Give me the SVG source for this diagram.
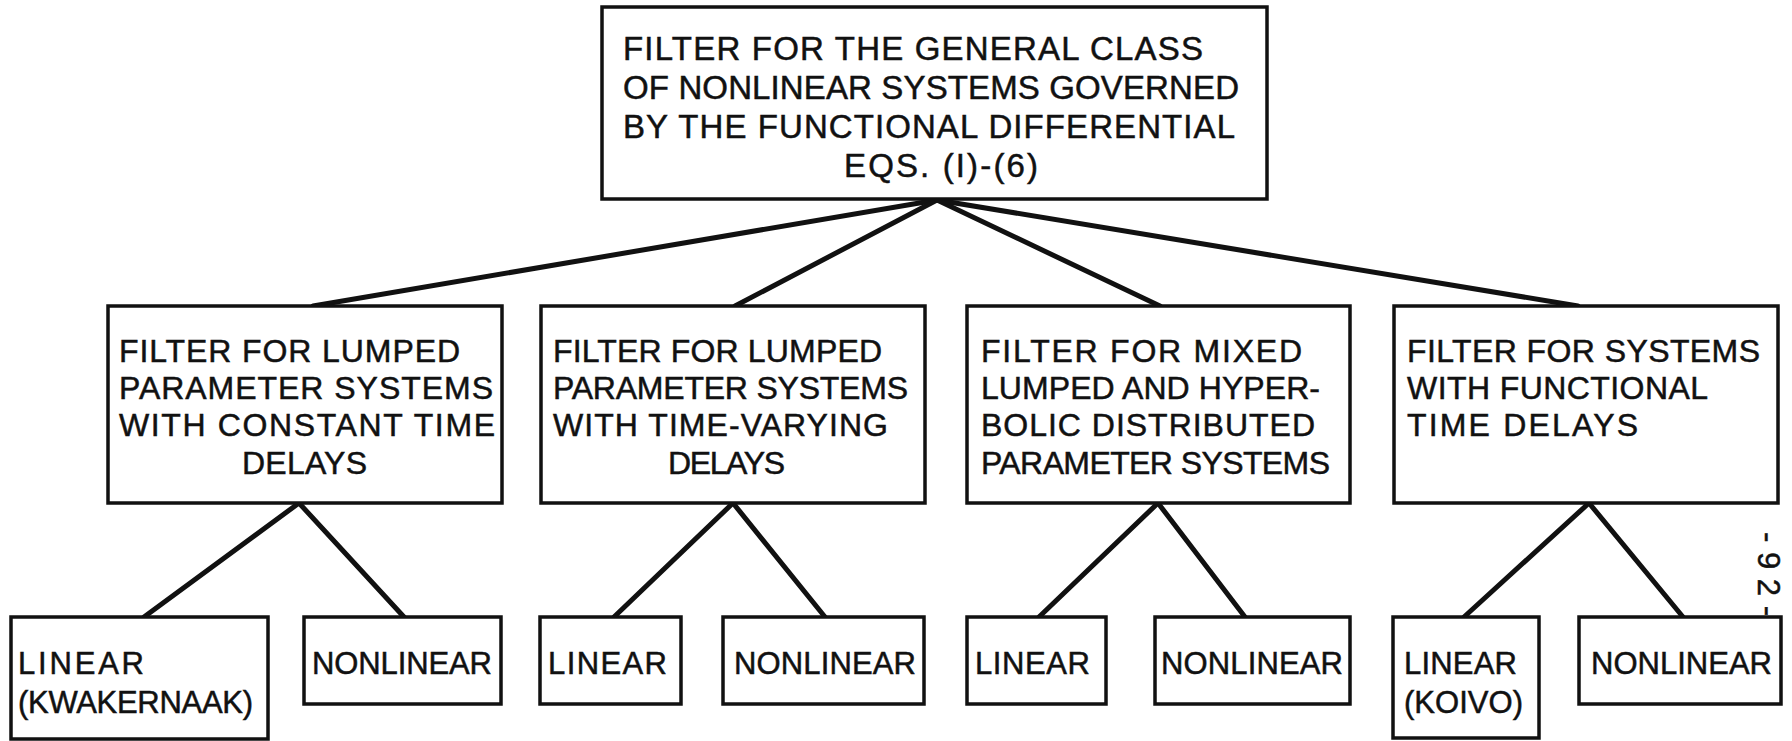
<svg xmlns="http://www.w3.org/2000/svg" width="1792" height="741" viewBox="0 0 1792 741">
<style>
.box{fill:#fff;stroke:#111;stroke-width:3.5}
.c{stroke:#111;stroke-width:5;fill:none;stroke-linecap:round}
text{font-family:"Liberation Sans",Arial,sans-serif;fill:#111;stroke:#111;stroke-width:0.5}
.t{font-size:33px}
.m{font-size:32px}
.b{font-size:31px}
</style>
<rect width="1792" height="741" fill="#fff"/>
<g id="connectors">
<line class="c" x1="937" y1="200" x2="313" y2="306"/>
<line class="c" x1="937" y1="200" x2="735" y2="306"/>
<line class="c" x1="937" y1="200" x2="1160" y2="306"/>
<line class="c" x1="937" y1="200" x2="1578" y2="306"/>
<line class="c" x1="299" y1="503" x2="144" y2="617"/>
<line class="c" x1="299" y1="503" x2="404" y2="617"/>
<line class="c" x1="733" y1="503" x2="614" y2="617"/>
<line class="c" x1="733" y1="503" x2="825" y2="617"/>
<line class="c" x1="1158" y1="503" x2="1039" y2="617"/>
<line class="c" x1="1158" y1="503" x2="1245" y2="617"/>
<line class="c" x1="1589" y1="503" x2="1464" y2="617"/>
<line class="c" x1="1589" y1="503" x2="1683" y2="617"/>
</g>
<g id="root">
<rect class="box" x="602" y="7" width="665" height="192"/>
<text class="t" x="623" y="60" textLength="580" lengthAdjust="spacing">FILTER FOR THE GENERAL CLASS</text>
<text class="t" x="623" y="99" textLength="616" lengthAdjust="spacing">OF NONLINEAR SYSTEMS GOVERNED</text>
<text class="t" x="623" y="138" textLength="612" lengthAdjust="spacing">BY THE FUNCTIONAL DIFFERENTIAL</text>
<text class="t" x="844" y="177" textLength="194" lengthAdjust="spacing">EQS. (I)-(6)</text>
</g>
<g id="lumped-constant">
<rect class="box" x="108" y="306" width="394" height="197"/>
<text class="m" x="119" y="362" textLength="341" lengthAdjust="spacing">FILTER FOR LUMPED</text>
<text class="m" x="119" y="399" textLength="374" lengthAdjust="spacing">PARAMETER SYSTEMS</text>
<text class="m" x="119" y="436" textLength="376" lengthAdjust="spacing">WITH CONSTANT TIME</text>
<text class="m" x="242" y="474" textLength="125" lengthAdjust="spacing">DELAYS</text>
</g>
<g id="lumped-varying">
<rect class="box" x="541" y="306" width="384" height="197"/>
<text class="m" x="553" y="362" textLength="329" lengthAdjust="spacing">FILTER FOR LUMPED</text>
<text class="m" x="553" y="399" textLength="355" lengthAdjust="spacing">PARAMETER SYSTEMS</text>
<text class="m" x="553" y="436" textLength="335" lengthAdjust="spacing">WITH TIME-VARYING</text>
<text class="m" x="668" y="474" textLength="117" lengthAdjust="spacing">DELAYS</text>
</g>
<g id="mixed">
<rect class="box" x="967" y="306" width="383" height="197"/>
<text class="m" x="981" y="362" textLength="321" lengthAdjust="spacing">FILTER FOR MIXED</text>
<text class="m" x="981" y="399" textLength="339" lengthAdjust="spacing">LUMPED AND HYPER-</text>
<text class="m" x="981" y="436" textLength="334" lengthAdjust="spacing">BOLIC DISTRIBUTED</text>
<text class="m" x="981" y="474" textLength="349" lengthAdjust="spacing">PARAMETER SYSTEMS</text>
</g>
<g id="functional">
<rect class="box" x="1394" y="306" width="384" height="197"/>
<text class="m" x="1407" y="362" textLength="353" lengthAdjust="spacing">FILTER FOR SYSTEMS</text>
<text class="m" x="1407" y="399" textLength="301" lengthAdjust="spacing">WITH FUNCTIONAL</text>
<text class="m" x="1407" y="436" textLength="231" lengthAdjust="spacing">TIME DELAYS</text>
</g>
<g id="linear-1">
<rect class="box" x="11" y="617" width="257" height="122"/>
<text class="b" x="18" y="674" textLength="126" lengthAdjust="spacing">LINEAR</text>
<text class="b" x="18" y="713" textLength="235" lengthAdjust="spacing">(KWAKERNAAK)</text>
</g>
<g id="nonlinear-1">
<rect class="box" x="304" y="617" width="197" height="87"/>
<text class="b" x="312" y="674" textLength="180" lengthAdjust="spacing">NONLINEAR</text>
</g>
<g id="linear-2">
<rect class="box" x="540" y="617" width="141" height="87"/>
<text class="b" x="548" y="674" textLength="119" lengthAdjust="spacing">LINEAR</text>
</g>
<g id="nonlinear-2">
<rect class="box" x="723" y="617" width="201" height="87"/>
<text class="b" x="734" y="674" textLength="182" lengthAdjust="spacing">NONLINEAR</text>
</g>
<g id="linear-3">
<rect class="box" x="967" y="617" width="139" height="87"/>
<text class="b" x="975" y="674" textLength="115" lengthAdjust="spacing">LINEAR</text>
</g>
<g id="nonlinear-3">
<rect class="box" x="1155" y="617" width="195" height="87"/>
<text class="b" x="1161" y="674" textLength="182" lengthAdjust="spacing">NONLINEAR</text>
</g>
<g id="linear-4">
<rect class="box" x="1393" y="617" width="146" height="121"/>
<text class="b" x="1404" y="674" textLength="113" lengthAdjust="spacing">LINEAR</text>
<text class="b" x="1404" y="713" textLength="119" lengthAdjust="spacing">(KOIVO)</text>
</g>
<g id="nonlinear-4">
<rect class="box" x="1579" y="617" width="202" height="87"/>
<text class="b" x="1591" y="674" textLength="181" lengthAdjust="spacing">NONLINEAR</text>
</g>
<text class="b" x="1758" y="532" transform="rotate(90 1758 532)" textLength="84" lengthAdjust="spacing">-92-</text>
</svg>
